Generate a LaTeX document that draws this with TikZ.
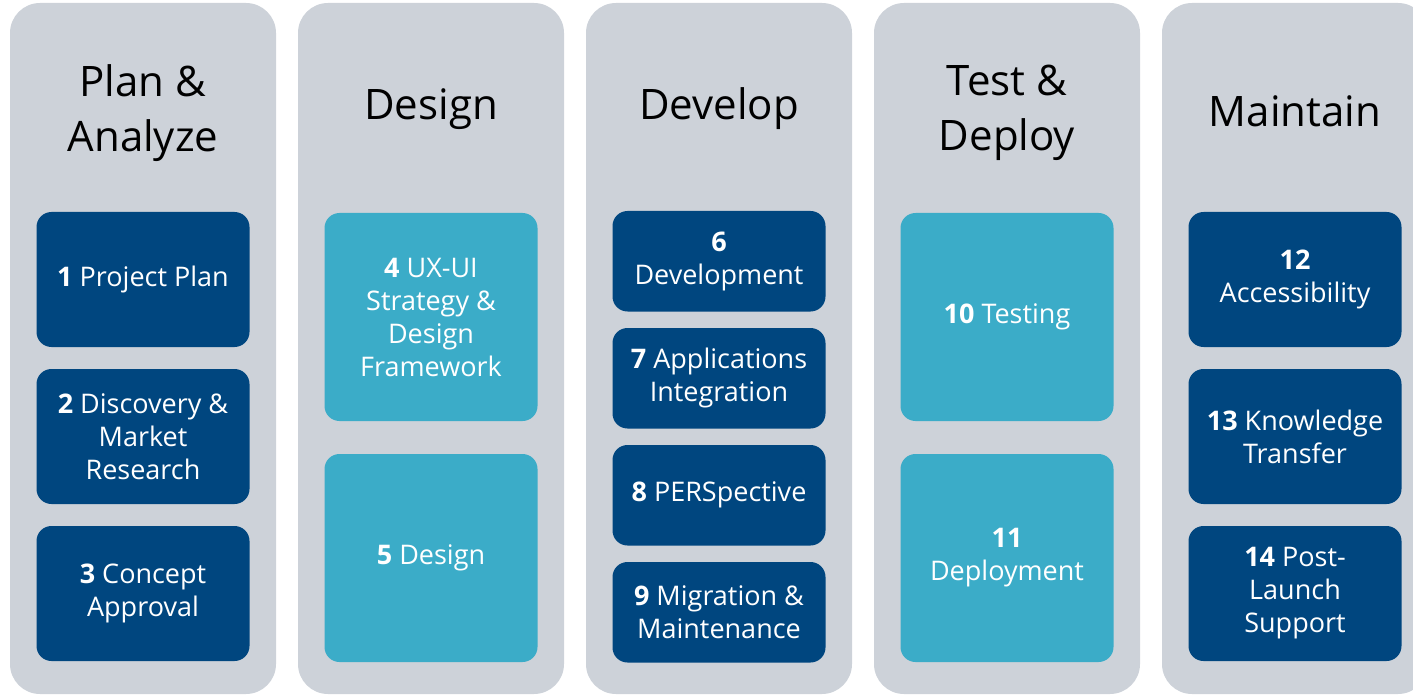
\documentclass[tikz,border=0pt]{standalone}
\usepackage{fontspec}
\setmainfont{Open Sans}
\usepackage{tikz}
\usetikzlibrary{shapes,positioning}
\definecolor{phasegrey}{RGB}{205, 210, 217}
\definecolor{taskblue}{RGB}{0, 70, 127}
\definecolor{tasklight}{RGB}{59, 172, 200}
\tikzstyle{phase} = [rectangle, rounded corners=15pt, fill=phasegrey, minimum width=133pt, minimum height=345.5pt, inner sep=0pt, outer sep=0pt]
\tikzstyle{title} = [text=black, align=center, font=\fontsize{21}{27.5}\selectfont]
\tikzstyle{task} = [rectangle, rounded corners=7.5pt, fill=taskblue, text=white, align=center, font=\fontsize{13.5}{16.5}\selectfont, minimum width=106.5pt, inner sep=0pt, outer sep=0pt]
\tikzstyle{tasklt} = [task, fill=tasklight]

\begin{document}
\begin{tikzpicture}

\useasboundingbox (0,0) rectangle (706.5pt,-347.5pt);
\clip (0,0) rectangle (706.5pt,-347.5pt);

% phases =============================
\node[phase, anchor=north west] (c1) at (5pt,-1.5pt) {};
\node[phase, right=11pt of c1] (c2) {};
\node[phase, right=11pt of c2] (c3) {};
\node[phase, right=11pt of c3] (c4) {};
\node[phase, right=11pt of c4] (c5) {};

% titles
\node[title] (t1) at ([yshift=-55pt]c1.north) {Plan \&\\Analyze};
\node[title] (t2) at ([yshift=-53pt]c2.north) {Design};
\node[title] (t3) at ([yshift=-53pt]c3.north) {Develop};
\node[title] (t4) at ([yshift=-55pt]c4.north) {Test \&\\Deploy};
\node[title] (t5) at ([yshift=-54pt]c5.north) {Maintain};

% plan & analyze
\node[task, minimum height=67.5pt, below=104.5pt of c1.north] (b1) {\textbf{1} Project Plan};
\node[task, minimum height=67.5pt, below=11pt of b1] (b2) {\textbf{2} Discovery \&\\Market\\Research};
\node[task, minimum height=67.5pt, below=11pt of b2] (b3) {\textbf{3} Concept\\Approval};

% design
\node[tasklt, minimum height=104pt, below=105pt of c2.north] (b4) {\textbf{4} UX-UI\\Strategy \&\\Design\\Framework};
\node[tasklt, minimum height=104pt, below=16.5pt of b4] (b5) {\textbf{5} Design};

% develop
\node[task, minimum height=50.25pt, below=104pt of c3.north] (b6) {\textbf{6}\\Development};
\node[task, minimum height=50.25pt, below=8.25pt of b6] (b7) {\textbf{7} Applications\\Integration};
\node[task, minimum height=50.25pt, below=8.25pt of b7] (b8) {\textbf{8} PERSpective};
\node[task, minimum height=50.25pt, below=8.25pt of b8] (b9) {\textbf{9} Migration \&\\Maintenance};

% test & deploy
\node[tasklt, minimum height=104pt, below=105pt of c4.north] (b10) {\textbf{10} Testing};
\node[tasklt, minimum height=104pt, below=16.5pt of b10] (b11) {\textbf{11}\\Deployment};

% maintain
\node[task, minimum height=67.5pt, below=104.5pt of c5.north] (b12) {\textbf{12}\\Accessibility};
\node[task, minimum height=67.5pt, below=11pt of b12] (b13) {\textbf{13} Knowledge\\Transfer};
\node[task, minimum height=67.5pt, below=11pt of b13] (b14) {\textbf{14} Post-\\Launch\\Support};

\end{tikzpicture}
\end{document}
